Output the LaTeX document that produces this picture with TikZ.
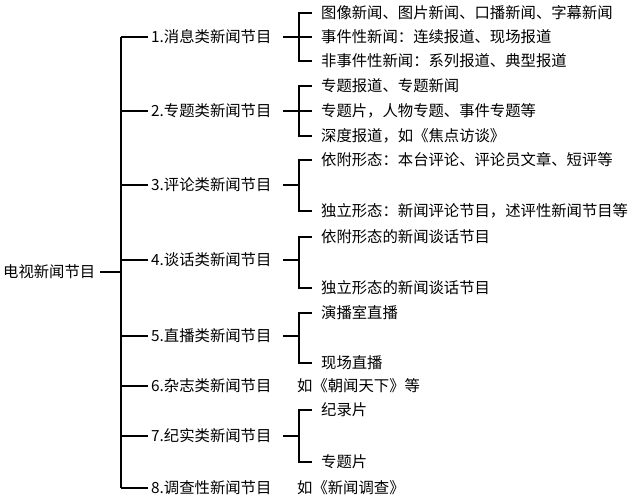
\documentclass[tikz,border=0pt]{standalone}
\usepackage{fontspec}
\setmainfont{Noto Sans CJK SC}
\usetikzlibrary{positioning}
\tikzset{
  txt/.style={anchor=west, inner sep=0pt, font=\fontsize{15.4}{17}\selectfont},
  ln/.style={line width=1.1pt}
}
\begin{document}
\begin{tikzpicture}[x=1bp, y=-1bp]
	\useasboundingbox (0,0) rectangle (641,500);
	\node (root) [txt] at (3,272) {电视新闻节目};
	\draw [ln] (100,272) -- (121,272);
	\draw [ln] (121,37) -- (121,488);
	% categories
	\foreach \y/\t [count=\i] in {37/1.消息类新闻节目, 111/2.专题类新闻节目, 185/3.评论类新闻节目, 260/4.谈话类新闻节目, 336/5.直播类新闻节目, 386/6.杂志类新闻节目, 436/7.纪实类新闻节目, 488/8.调查性新闻节目} {
		\node (c\i) [txt] at (151,\y) {\t};
		\draw [ln] (121,\y) -- (148,\y);
	}
	% brackets
	\foreach \i/\a/\b in {1/13/61, 2/86/136, 3/160/211, 4/237/288, 5/313/363, 7/410/462} {
		\draw [ln] (312,\a) -- (299,\a) -- (299,\b) -- (312,\b);
		\draw [ln] (283,0|-c\i) -- (299,0|-c\i);
	}
	\draw [ln] (299,37) -- (312,37);
	\draw [ln] (299,111) -- (312,111);
	% leaves
	\node (l1) [txt] at (321,13) {图像新闻、图片新闻、口播新闻、字幕新闻};
	\node (l2) [txt] at (321,37) {事件性新闻：连续报道、现场报道};
	\node (l3) [txt] at (321,61) {非事件性新闻：系列报道、典型报道};
	\node (l4) [txt] at (321,86) {专题报道、专题新闻};
	\node (l5) [txt] at (321,111) {专题片，人物专题、事件专题等};
	\node (l6) [txt] at (321,136) {深度报道，如《焦点访谈》};
	\node (l7) [txt] at (321,160) {依附形态：本台评论、评论员文章、短评等};
	\node (l8) [txt] at (321,211) {独立形态：新闻评论节目，述评性新闻节目等};
	\node (l9) [txt] at (321,237) {依附形态的新闻谈话节目};
	\node (l10) [txt] at (321,288) {独立形态的新闻谈话节目};
	\node (l11) [txt] at (321,313) {演播室直播};
	\node (l12) [txt] at (321,363) {现场直播};
	\node (l13) [txt] at (297,386) {如《朝闻天下》等};
	\node (l14) [txt] at (321,410) {纪录片};
	\node (l15) [txt] at (321,462) {专题片};
	\node (l16) [txt] at (297,488) {如《新闻调查》};
\end{tikzpicture}
\end{document}
